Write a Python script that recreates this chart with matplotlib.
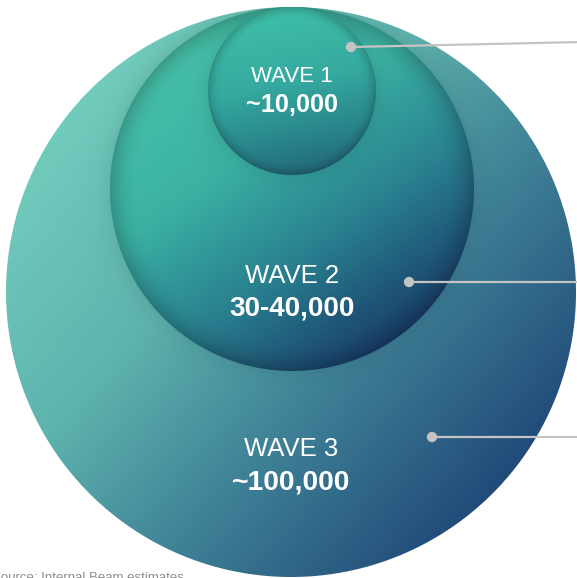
import numpy as np
import matplotlib.pyplot as plt

W, H = 577, 578

# data
wave_names = ["WAVE 3", "WAVE 2", "WAVE 1"]
wave_values = ["~100,000", "30-40,000", "~10,000"]
source_note = "Source: Internal Beam estimates"

# layout (pixels, y down)
cx = [291, 292, 292]
cy = [292, 189, 91]
rad = [285, 182, 84]
name_y = [449, 276, 76]
value_y = [482, 309, 105]
dot_x = [432, 409, 351]
dot_y = [437, 282, 47]
end_y = [437, 282, 42]
name_fs = [18.5, 18.5, 16]
value_fs = [20.3, 20, 18.2]

# gradient styles: angle (deg), stops, rim darkening
angles = [42, 55, 78]
stops = [
    [(0.0, "#72ccbd"), (0.35, "#5eb3ad"), (0.65, "#3f8297"), (1.0, "#214a79")],
    [(0.0, "#47c2aa"), (0.35, "#3bb1a3"), (0.65, "#2a8391"), (1.0, "#193e6a")],
    [(0.0, "#3fbfa8"), (0.45, "#35a99f"), (0.75, "#2a888c"), (1.0, "#22687a")],
]
rim_k = [0.0, 0.2, 0.2]


def hex2rgb(h):
    h = h.lstrip('#')
    return np.array([int(h[i:i + 2], 16) for i in (0, 2, 4)]) / 255.0


def ramp(t, st):
    pos = np.array([s[0] for s in st])
    cols = np.array([hex2rgb(s[1]) for s in st])
    out = np.empty(t.shape + (3,))
    for k in range(3):
        out[..., k] = np.interp(t, pos, cols[:, k])
    return out


fig = plt.figure(figsize=(W / 100, H / 100), dpi=100)
ax = fig.add_axes([0, 0, 1, 1])

for i in range(3):
    r = rad[i]
    x0, x1 = int(np.floor(cx[i] - r - 2)), int(np.ceil(cx[i] + r + 2))
    y0, y1 = int(np.floor(cy[i] - r - 2)), int(np.ceil(cy[i] + r + 2))
    X, Y = np.meshgrid(np.arange(x0, x1) + 0.5, np.arange(y0, y1) + 0.5)
    d = np.hypot(X - cx[i], Y - cy[i])
    a = np.deg2rad(angles[i])
    u = ((X - cx[i]) * np.cos(a) + (Y - cy[i]) * np.sin(a)) / r
    rgb = ramp((u + 1) / 2, stops[i])
    rn = d / r
    shade = 1 - rim_k[i] * np.clip((rn - 0.84) / 0.16, 0, 1) ** 2
    # faint shadow cast by the next inner circle
    if i < 2:
        j = i + 1
        dj = np.hypot(X - cx[j], Y - cy[j]) - rad[j]
        shade *= 1 - 0.07 * np.exp(-np.clip(dj, 0, None) / 10)
    rgb = rgb * shade[..., None]
    alpha = np.clip(r - d + 0.5, 0, 1)
    rgba = np.dstack([np.clip(rgb, 0, 1), alpha])
    ax.imshow(rgba, extent=(x0, x1, y1, y0), interpolation='bilinear', zorder=i + 1)

    ax.text(cx[i], name_y[i], wave_names[i], color='white', ha='center', va='center',
            fontsize=name_fs[i], family='Liberation Sans', zorder=10)
    ax.text(cx[i], value_y[i], wave_values[i], color='white', ha='center', va='center',
            fontsize=value_fs[i], fontweight='bold', family='Liberation Sans', zorder=10)

    ax.plot([dot_x[i], W + 5], [dot_y[i], end_y[i]], color='#c4c4c4', lw=1.6, zorder=11)
    ax.scatter([dot_x[i]], [dot_y[i]], s=55, color='#c4c4c4', edgecolors='none', zorder=12)

ax.text(-8, 572, source_note, color='#8c8c8c', fontsize=9.5, family='Liberation Sans',
        ha='left', va='top', zorder=10)

ax.set_xlim(0, W)
ax.set_ylim(H, 0)
ax.axis('off')
fig.savefig('out.png', dpi=100)
